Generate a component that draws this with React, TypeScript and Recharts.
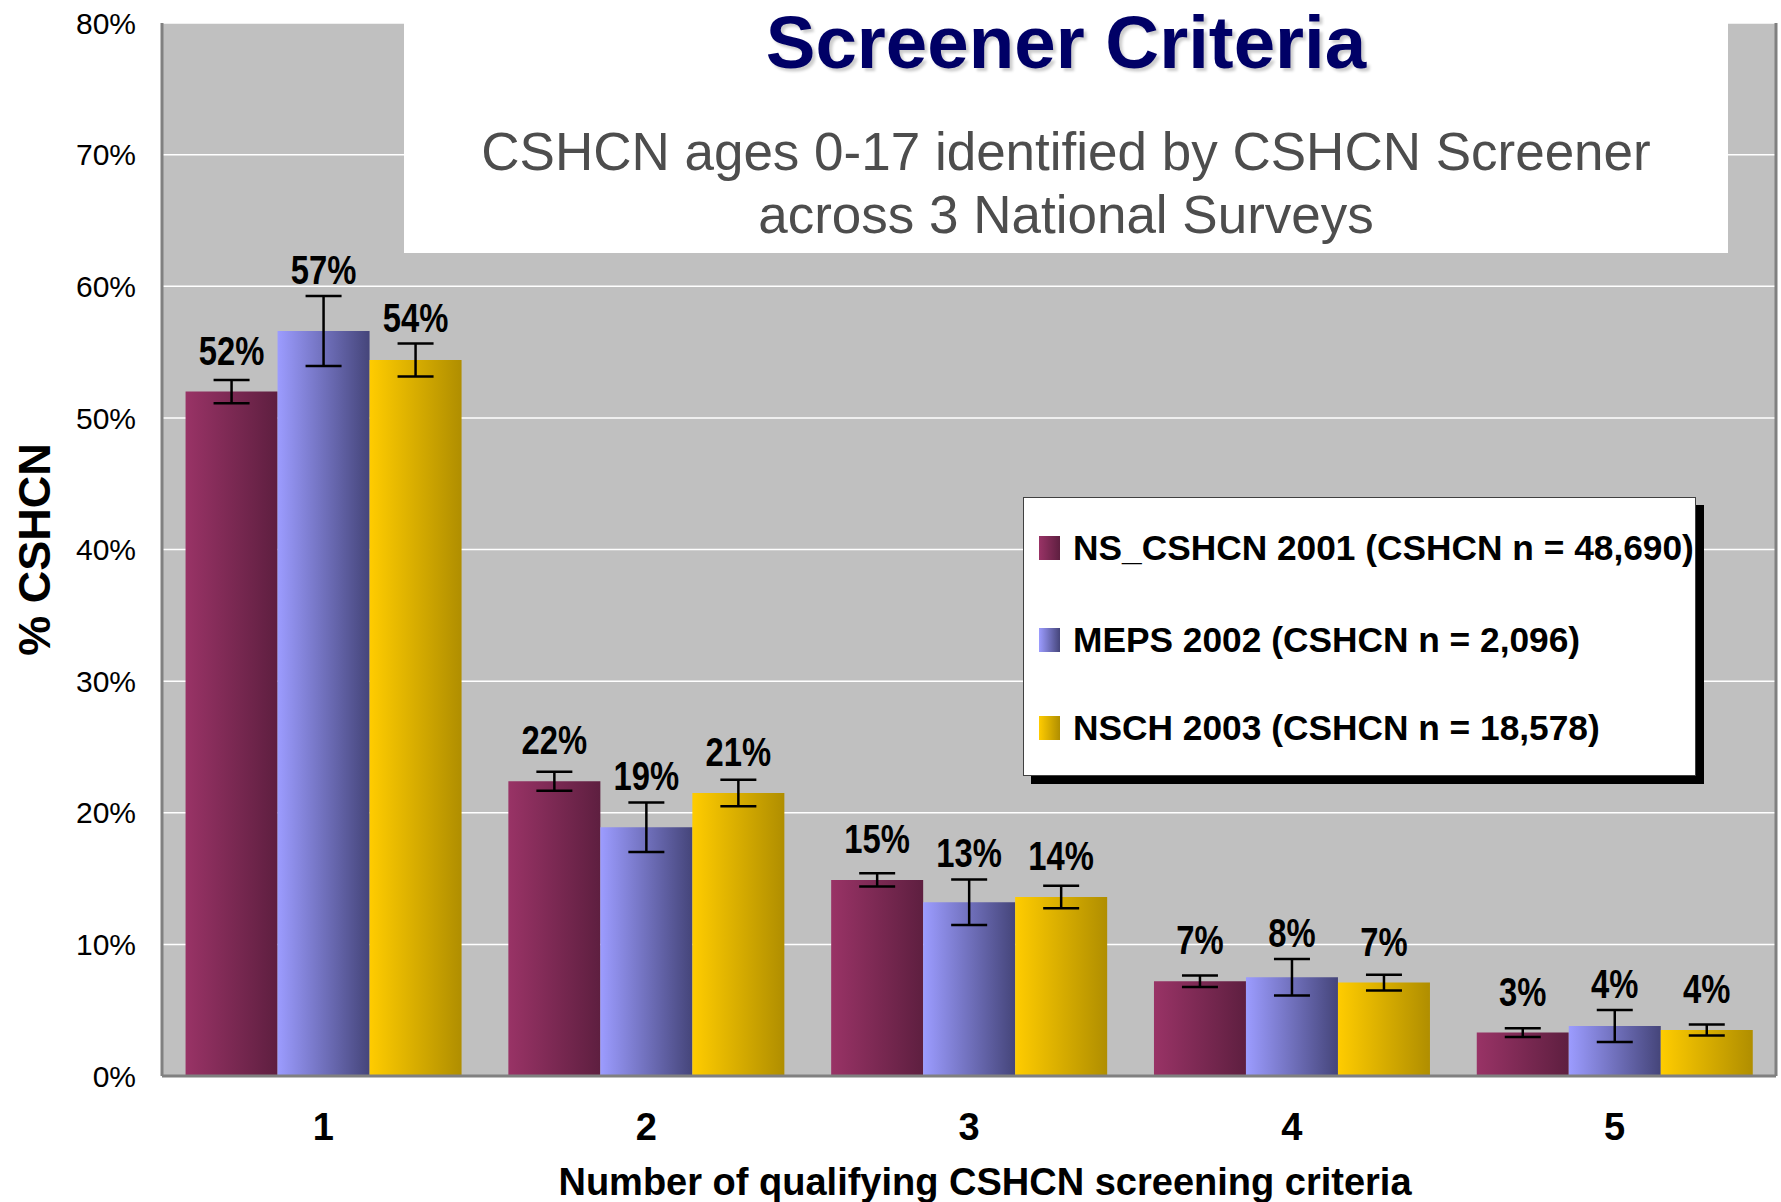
import React from 'react';
import {
  BarChart,
  Bar,
  XAxis,
  YAxis,
  CartesianGrid,
  ErrorBar,
  LabelList,
  Legend,
} from 'recharts';

// number of qualifying screening criteria
const categories = ['1', '2', '3', '4', '5'];

// % of CSHCN per survey
const ns2001 = [52.0, 22.4, 14.9, 7.2, 3.3];
const meps2002 = [56.6, 18.9, 13.2, 7.5, 3.8];
const nsch2003 = [54.4, 21.5, 13.6, 7.1, 3.5];

// half-length of the confidence interval whiskers
const ns2001Err = [0.88, 0.72, 0.5, 0.43, 0.33];
const meps2002Err = [2.65, 1.88, 1.73, 1.38, 1.22];
const nsch2003Err = [1.25, 1.0, 0.86, 0.6, 0.42];

// value labels as printed on the slide
const ns2001Labels = ['52%', '22%', '15%', '7%', '3%'];
const meps2002Labels = ['57%', '19%', '13%', '8%', '4%'];
const nsch2003Labels = ['54%', '21%', '14%', '7%', '4%'];

const seriesNames = [
  'NS_CSHCN 2001 (CSHCN n = 48,690)',
  'MEPS 2002 (CSHCN n = 2,096)',
  'NSCH 2003 (CSHCN n = 18,578)',
];

const yTicks = [0, 10, 20, 30, 40, 50, 60, 70, 80];

const gradients = [
  { id: 'gradNs', from: '#993366', to: '#5e1f40' },
  { id: 'gradMeps', from: '#9c9cff', to: '#45457a' },
  { id: 'gradNsch', from: '#ffcc00', to: '#b08e00' },
];

const data = categories.map((c, i) => ({
  name: c,
  ns: ns2001[i],
  nsErr: ns2001Err[i],
  meps: meps2002[i],
  mepsErr: meps2002Err[i],
  nsch: nsch2003[i],
  nschErr: nsch2003Err[i],
}));

const FONT = "'Liberation Sans', Arial, sans-serif";

// label sits above whichever is higher: the bar top or the whisker
const makeLabel = (values: number[], errs: number[], texts: string[]) => (props: any) => {
  const { x, y, width, height, index } = props;
  const pxPerUnit = height / values[index];
  const errTop = y - errs[index] * pxPerUnit;
  const baseline = Math.min(y - 27, errTop - 12);
  // the slide uses a condensed bold face; squeeze the regular one
  return (
    <text
      transform={`translate(${x + width / 2}, ${baseline}) scale(0.82, 1)`}
      x={0}
      y={0}
      textAnchor='middle'
      fontFamily={FONT}
      fontWeight='bold'
      fontSize={40}
      fill='#000'
    >
      {texts[index]}
    </text>
  );
};

const renderLegend = () => (
  <div
    style={{
      position: 'relative',
      width: 673,
      height: 279,
      boxSizing: 'border-box',
      background: '#fff',
      border: '1px solid #404040',
      boxShadow: '8px 8px 0 #000',
      fontFamily: FONT,
    }}
  >
    {seriesNames.map((n, i) => (
      <div
        key={n}
        style={{
          position: 'absolute',
          left: 15,
          top: [30, 122, 210][i],
          height: 40,
          display: 'flex',
          alignItems: 'center',
          whiteSpace: 'nowrap',
        }}
      >
        <span
          style={{
            display: 'inline-block',
            width: 21,
            height: 24,
            marginRight: 13,
            background: `linear-gradient(to right, ${gradients[i].from}, ${gradients[i].to})`,
          }}
        />
        <span style={{ fontSize: 35.3, fontWeight: 'bold', lineHeight: '40px' }}>{n}</span>
      </div>
    ))}
  </div>
);

export default function App() {
  return (
    <div
      style={{
        position: 'absolute',
        left: 0,
        top: 0,
        width: 1781,
        height: 1202,
        background: '#fff',
        fontFamily: FONT,
      }}
    >
      <BarChart
        width={1781}
        height={1202}
        data={data}
        margin={{ top: 23, right: 0, bottom: 0, left: 0 }}
        barCategoryGap='7.3%'
        barGap={0}
      >
        <defs>
          {gradients.map((g) => (
            <linearGradient key={g.id} id={g.id} x1='0' y1='0' x2='1' y2='0'>
              <stop offset='0%' stopColor={g.from} />
              <stop offset='100%' stopColor={g.to} />
            </linearGradient>
          ))}
        </defs>
        <CartesianGrid
          vertical={false}
          fill='#c0c0c0'
          stroke='#ffffff'
          strokeWidth={1.5}
        />
        <XAxis
          dataKey='name'
          height={126}
          tickLine={false}
          tickSize={0}
          tickMargin={37}
          axisLine={{ stroke: '#808080', strokeWidth: 3 }}
          tick={{ fontSize: 38, fontWeight: 'bold', fill: '#000', fontFamily: FONT }}
          label={(p: any) => {
            const vb = p.viewBox;
            return (
              <text
                x={vb.x + vb.width / 2 + 16}
                y={1195}
                textAnchor='middle'
                fontSize={38}
                fontWeight='bold'
                fontFamily={FONT}
                fill='#000'
              >
                Number of qualifying CSHCN screening criteria
              </text>
            );
          }}
        />
        <XAxis
          xAxisId='top'
          orientation='top'
          dataKey='name'
          height={0}
          tick={false}
          tickLine={false}
          axisLine={{ stroke: '#808080', strokeWidth: 3 }}
        />
        <YAxis
          width={162}
          domain={[0, 80]}
          ticks={yTicks}
          interval={0}
          tickLine={false}
          tickSize={0}
          tickMargin={26}
          tickFormatter={(v) => `${v}%`}
          axisLine={{ stroke: '#808080', strokeWidth: 3 }}
          tick={{ fontSize: 30, fill: '#000', fontFamily: FONT }}
          label={(p: any) => {
            const vb = p.viewBox;
            const cy = vb.y + vb.height / 2;
            return (
              <text
                x={50}
                y={cy}
                transform={`rotate(-90, 50, ${cy})`}
                textAnchor='middle'
                fontSize={45}
                fontWeight='bold'
                fontFamily={FONT}
                fill='#000'
              >
                % CSHCN
              </text>
            );
          }}
        />
        <YAxis
          yAxisId='right'
          orientation='right'
          width={5}
          domain={[0, 80]}
          tick={false}
          tickLine={false}
          axisLine={{ stroke: '#808080', strokeWidth: 3 }}
        />
        <Legend
          layout='vertical'
          verticalAlign='middle'
          align='center'
          wrapperStyle={{ left: 1023, top: 497, width: 673, height: 279 }}
          content={renderLegend}
        />
        <Bar dataKey='ns' name={seriesNames[0]} fill='url(#gradNs)' isAnimationActive={false}>
          <ErrorBar dataKey='nsErr' width={18} stroke='#000' strokeWidth={2.5} />
          <LabelList dataKey='ns' content={makeLabel(ns2001, ns2001Err, ns2001Labels)} />
        </Bar>
        <Bar dataKey='meps' name={seriesNames[1]} fill='url(#gradMeps)' isAnimationActive={false}>
          <ErrorBar dataKey='mepsErr' width={18} stroke='#000' strokeWidth={2.5} />
          <LabelList dataKey='meps' content={makeLabel(meps2002, meps2002Err, meps2002Labels)} />
        </Bar>
        <Bar dataKey='nsch' name={seriesNames[2]} fill='url(#gradNsch)' isAnimationActive={false}>
          <ErrorBar dataKey='nschErr' width={18} stroke='#000' strokeWidth={2.5} />
          <LabelList dataKey='nsch' content={makeLabel(nsch2003, nsch2003Err, nsch2003Labels)} />
        </Bar>
      </BarChart>

      {/* title panel laid over the top of the plot */}
      <div
        style={{
          position: 'absolute',
          left: 404,
          top: 0,
          width: 1324,
          height: 253,
          background: '#fff',
          textAlign: 'center',
        }}
      >
        <div
          style={{
            position: 'absolute',
            left: 0,
            right: 0,
            top: 6,
            fontSize: 74.5,
            lineHeight: '74px',
            fontWeight: 'bold',
            color: '#000066',
            textShadow: '3px 3px 3px rgba(0,0,0,0.2)',
          }}
        >
          Screener Criteria
        </div>
        <div
          style={{
            position: 'absolute',
            left: 0,
            right: 0,
            top: 120,
            fontSize: 53,
            lineHeight: '63px',
            color: '#4d4d4d',
          }}
        >
          CSHCN ages 0-17 identified by CSHCN Screener
          <br />
          across 3 National Surveys
        </div>
      </div>
    </div>
  );
}
